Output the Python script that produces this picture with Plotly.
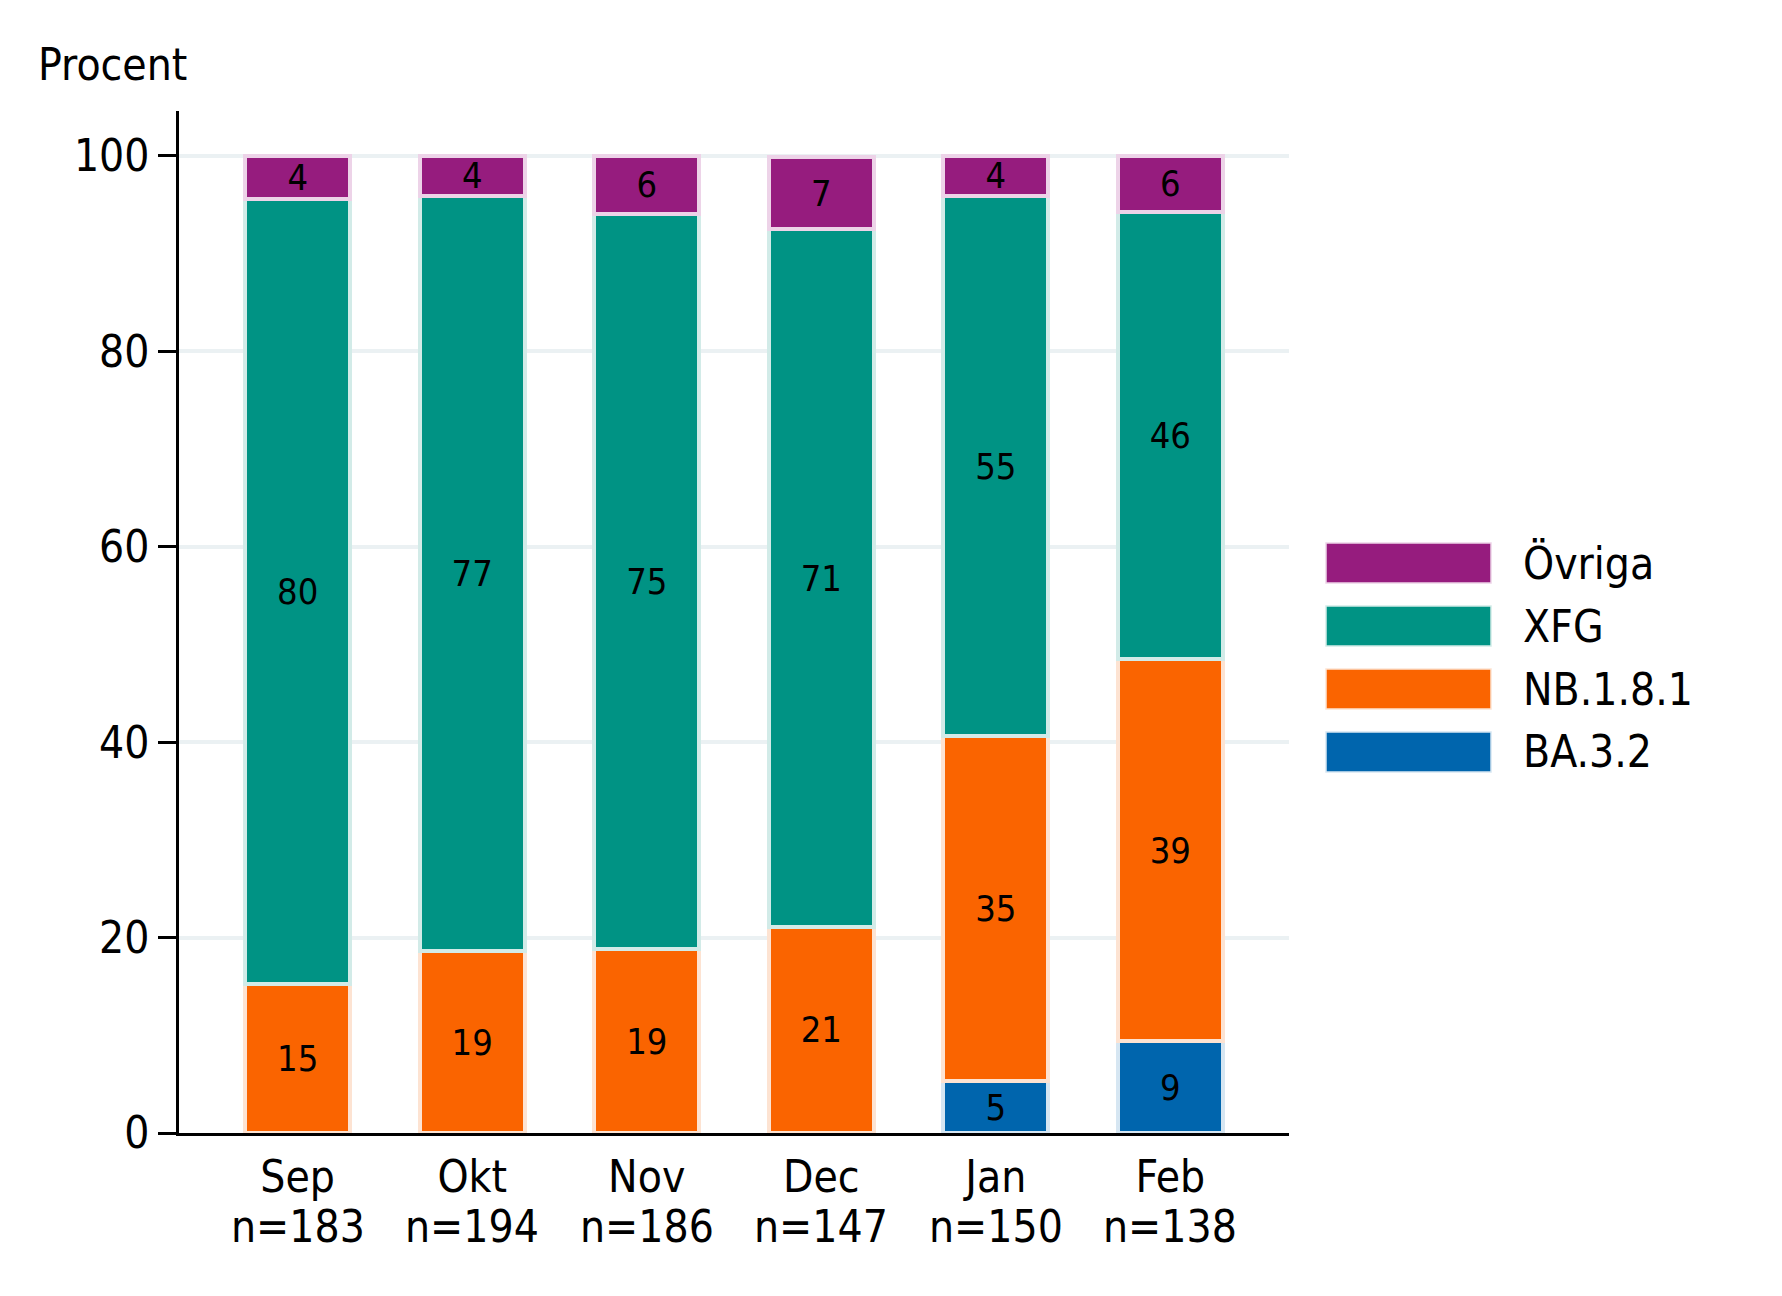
import plotly.graph_objects as go

months = ['Sep', 'Okt', 'Nov', 'Dec', 'Jan', 'Feb']
n_counts = [183, 194, 186, 147, 150, 138]

ba32 = [0, 0, 0, 0, 5.3, 9.4]
nb181 = [15.3, 18.6, 18.8, 21.1, 35.3, 39.1]
xfg = [80.3, 77.3, 75.3, 71.4, 55.3, 45.8]
ovriga = [4.4, 4.1, 5.9, 7.4, 4.1, 5.7]

series_names = ['BA.3.2', 'NB.1.8.1', 'XFG', 'Övriga']
series_values = [ba32, nb181, xfg, ovriga]
series_colors = ['#0065AD', '#FA6400', '#009384', '#961C7E']
edge_colors = ['#D6E6F2', '#FDE3D2', '#D2EBE8', '#EDD3E8']

FONT = 'DejaVu Sans Condensed, DejaVu Sans, sans-serif'

# page body has an 8px margin, so everything is measured minus that
OFF = 8
W, H = 1782 - 2 * OFF, 1296 - 2 * OFF
L, R, T, B = 179 - OFF, 1289 - OFF, 111 - OFF, 1133 - OFF


def px(x):
    return (x - OFF - L) / (R - L)


def py(y):
    return (B - (y - OFF)) / (B - T)


fig = go.Figure()
for name, vals, col, edge in zip(series_names, series_values, series_colors, edge_colors):
    fig.add_trace(go.Bar(
        x=months,
        y=[v if v else None for v in vals],
        name=name,
        marker_color=col,
        marker_line_color=edge,
        marker_line_width=4,
        width=0.6,
        texttemplate='%{y:.0f}',
        textposition='inside',
        insidetextanchor='middle',
        textangle=0,
        constraintext='none',
        textfont=dict(family=FONT, size=36, color='black'),
        showlegend=False,
    ))

# legend drawn as wide swatches (top item = Övriga)
for i, (name, col, edge) in enumerate(zip(series_names[::-1], series_colors[::-1], edge_colors[::-1])):
    top = 543 + i * 63
    fig.add_shape(type='rect', xref='paper', yref='paper',
                  x0=px(1326), x1=px(1491), y0=py(top + 40), y1=py(top),
                  fillcolor=col, line=dict(color=edge, width=1.5))
    fig.add_annotation(xref='paper', yref='paper', x=px(1521), y=py(top + 20),
                       xanchor='left', yanchor='middle', showarrow=False,
                       text=name, font=dict(family=FONT, size=44, color='black'))

# sample sizes under the month labels
for m, n in zip(months, n_counts):
    fig.add_annotation(x=m, xref='x', yref='paper', y=py(1226),
                       yanchor='middle', showarrow=False,
                       text=f'n={n}', font=dict(family=FONT, size=44, color='black'))

fig.add_annotation(xref='paper', yref='paper', x=px(36), y=py(92),
                   xanchor='left', yanchor='bottom', showarrow=False,
                   text='Procent', font=dict(family=FONT, size=44, color='black'))

fig.update_layout(
    width=W, height=H,
    barmode='stack',
    plot_bgcolor='white',
    paper_bgcolor='white',
    margin=dict(l=L, r=W - R, t=T, b=H - B, autoexpand=False),
    font=dict(family=FONT, size=44, color='black'),
    xaxis=dict(
        range=[-0.68, 5.68],
        showgrid=False,
        showline=True, linecolor='black', linewidth=3,
        ticks='', ticklabelstandoff=3,
        tickfont=dict(size=44),
    ),
    yaxis=dict(
        range=[0, 104.6],
        tickvals=[0, 20, 40, 60, 80, 100],
        showgrid=True, gridcolor='#EBF1F3', gridwidth=4,
        zeroline=False,
        showline=True, linecolor='black', linewidth=2.5,
        ticks='outside', ticklen=18, tickwidth=2.5, tickcolor='black',
        ticklabelstandoff=0,
        tickfont=dict(size=44),
    ),
)

fig.write_html('out.html')
